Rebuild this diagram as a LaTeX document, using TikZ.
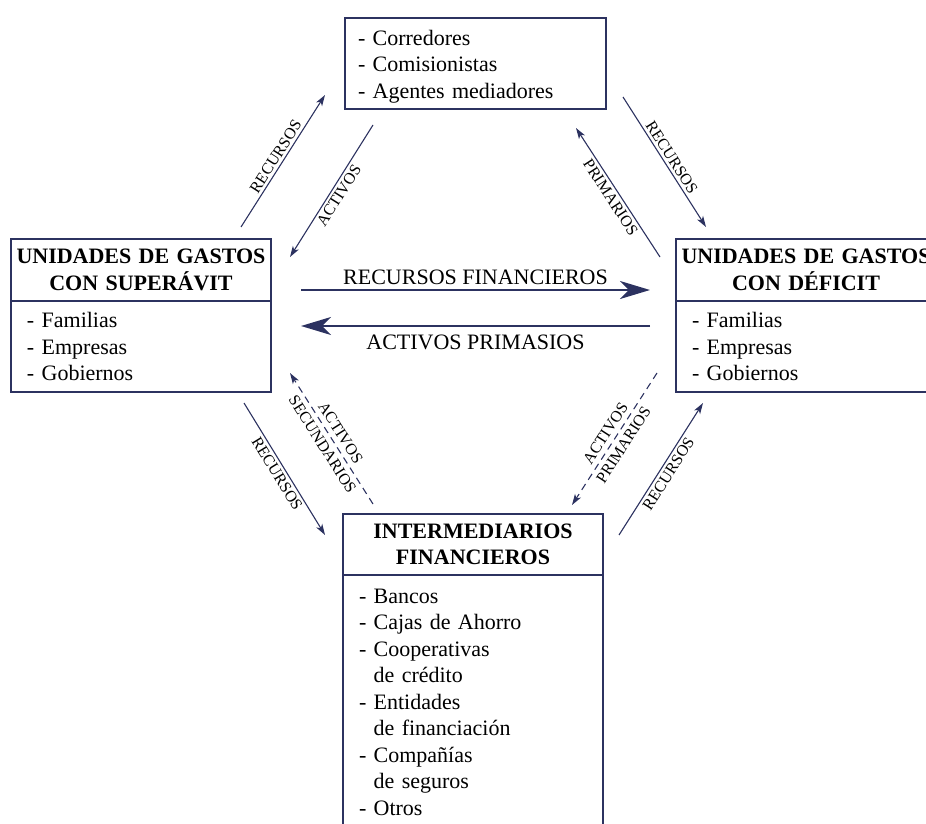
\documentclass[tikz,border=0pt]{standalone}
\usepackage{fontspec}
\setmainfont{Liberation Serif}
\usetikzlibrary{positioning}
\usetikzlibrary{arrows.meta}
\definecolor{inkblue}{RGB}{44,50,96}

\begin{document}
\begin{tikzpicture}[x=1pt, y=-1pt,
  every node/.style = {outer sep=0pt},
  box/.style = {draw=inkblue, line width=2.2pt, rectangle},
  headbox/.style = {box, align=center, text width=252pt, inner xsep=4pt,
    minimum height=62pt, font=\bfseries\fontsize{22}{26.5}\selectfont},
  listbox/.style = {box, align=left, text width=228pt, inner xsep=16pt,
    font=\fontsize{22}{26.5}\selectfont},
  flow/.style = {draw=inkblue, line width=1.1pt,
    -{Stealth[length=11pt, width=7pt, inset=3pt]}},
  dashflow/.style = {flow, dash pattern=on 7pt off 5pt},
  bigflow/.style = {draw=inkblue, line width=2.6pt,
    -{Stealth[length=30pt, width=18pt, inset=9pt]}},
  lbl/.style = {font=\fontsize{16}{18}\selectfont, sloped, midway},
  biglbl/.style = {font=\fontsize{22}{26}\selectfont, midway}
  ]
  \useasboundingbox (0,0) rectangle (926,824);
  \clip (0,0) rectangle (926,824);

  % cajas
  \node[listbox, text width=235pt, inner xsep=13pt, minimum height=91pt,
    anchor=north west] (corr) at (345,18)
    {\rule{0pt}{21pt}- Corredores\\- Comisionistas\\- Agentes mediadores};

  \node[headbox, anchor=north west] (suph) at (11,239)
    {UNIDADES DE GASTOS\\CON SUPERÁVIT};
  \node[listbox, minimum height=91pt, below=0pt of suph] (supb)
    {- Familias\\- Empresas\\- Gobiernos};

  \node[headbox, anchor=north west] (defh) at (676,239)
    {UNIDADES DE GASTOS\\CON DÉFICIT};
  \node[listbox, minimum height=91pt, below=0pt of defh] (defb)
    {- Familias\\- Empresas\\- Gobiernos};

  \node[headbox, minimum height=61pt, anchor=north west] (interh) at (343,514)
    {INTERMEDIARIOS\\FINANCIEROS};
  \node[listbox, inner ysep=14pt, below=0pt of interh] (interb)
    {- Bancos\\- Cajas de Ahorro\\- Cooperativas\\\phantom{-~}de crédito\\
     - Entidades\\\phantom{-~}de financiación\\- Compañías\\
     \phantom{-~}de seguros\\- Otros};

  % flujos
  \draw[flow] ([shift={(-30,-12)}]suph.north east) -- node[lbl, above] {RECURSOS}
    ([shift={(-20,-14)}]corr.south west);
  \draw[flow] ([shift={(28,16)}]corr.south west) -- node[lbl, below] {ACTIVOS}
    ([shift={(19,18)}]suph.north east);
  \draw[flow] ([shift={(17,-12)}]corr.south east) -- node[lbl, above] {RECURSOS}
    ([shift={(30,-12)}]defh.north west);
  \draw[flow] ([shift={(-16,18)}]defh.north west) -- node[lbl, below] {PRIMARIOS}
    ([shift={(-30,19)}]corr.south east);

  \draw[bigflow] ([shift={(30,20)}]suph.east) --
    node[biglbl, above=2pt] {RECURSOS FINANCIEROS} ([shift={(-26,20)}]defh.west);
  \draw[bigflow] ([shift={(-26,25)}]defh.south west) --
    node[biglbl, below=6pt] {ACTIVOS PRIMASIOS} ([shift={(30,25)}]suph.south east);

  \draw[flow] ([shift={(-27,11)}]supb.south east) -- node[lbl, below] {RECURSOS}
    ([shift={(-18,21)}]interh.north west);
  \draw[dashflow] ([shift={(30,-10)}]interh.north west) --
    node[lbl, above=2pt] {ACTIVOS} node[lbl, below=2pt] {SECUNDARIOS}
    ([shift={(19,-19)}]supb.south east);
  \draw[dashflow] ([shift={(-19,-19)}]defb.south west) --
    node[lbl, above=2pt] {ACTIVOS} node[lbl, below=2pt] {PRIMARIOS}
    ([shift={(-31,-9)}]interh.north east);
  \draw[flow] ([shift={(16,21)}]interh.north east) -- node[lbl, below] {RECURSOS}
    ([shift={(27,11)}]defb.south west);
\end{tikzpicture}
\end{document}
